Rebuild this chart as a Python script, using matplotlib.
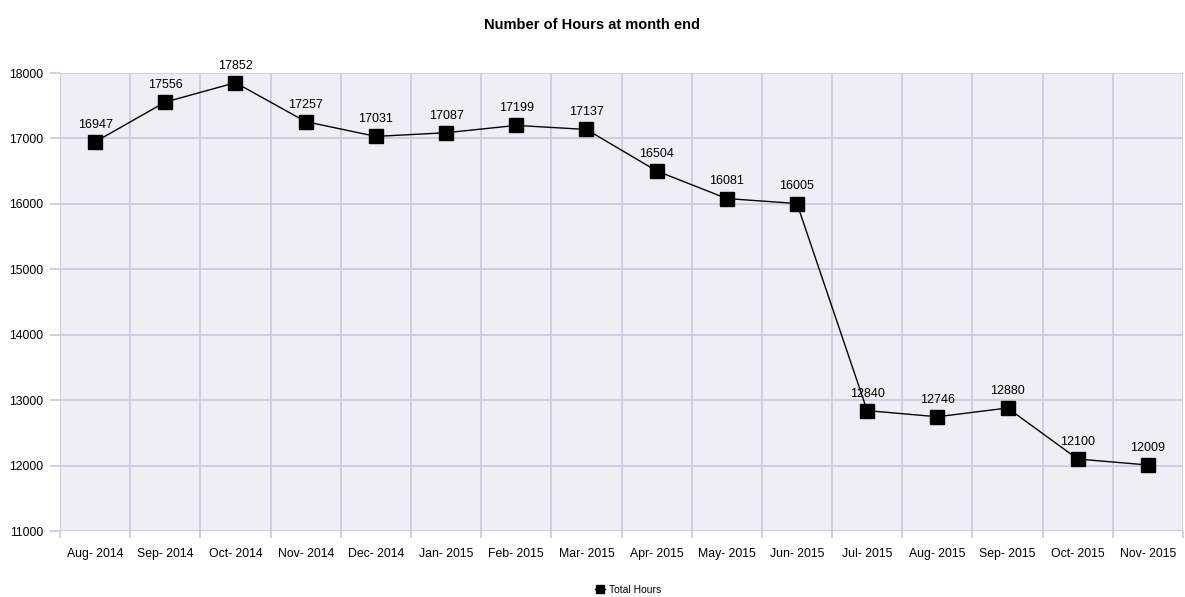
import matplotlib
matplotlib.use("Agg")
from matplotlib import pyplot as plt
import numpy as np

# Data
months = ["Aug- 2014", "Sep- 2014", "Oct- 2014", "Nov- 2014", "Dec- 2014", "Jan- 2015",
          "Feb- 2015", "Mar- 2015", "Apr- 2015", "May- 2015", "Jun- 2015", "Jul- 2015",
          "Aug- 2015", "Sep- 2015", "Oct- 2015", "Nov- 2015"]
hours = [16947, 17556, 17852, 17257, 17031, 17087, 17199, 17137, 16504, 16081,
         16005, 12840, 12746, 12880, 12100, 12009]
yticks = [11000, 12000, 13000, 14000, 15000, 16000, 17000, 18000]

plt.rcParams["font.family"] = ["Liberation Sans", "DejaVu Sans"]

gridc = "#c9c7dc"
bg = "#efeef4"

fig = plt.figure(figsize=(11.85, 5.97), dpi=100)
ax = fig.add_axes([60/1185, 1-531/597, (1183-60)/1185, (531-73)/597])
ax.set_facecolor(bg)

x = np.arange(len(months))
ax.plot(x, hours, color="black", lw=1, marker="s", ms=10, mfc="black", mec="black",
        label="Total Hours")
for xi, v in zip(x, hours):
    ax.annotate(str(v), (xi, v), xytext=(0, 8), textcoords="offset points",
                ha="center", va="bottom", fontsize=9)

ax.set_xlim(-0.5, len(months) - 0.5)
ax.set_ylim(11000, 18000)
ax.set_yticks(yticks)
ax.set_yticklabels([str(t) for t in yticks], fontsize=8.8)
ax.set_xticks(x)
ax.set_xticklabels(months, fontsize=8.8)
ax.set_xticks(np.arange(len(months) + 1) - 0.5, minor=True)
ax.tick_params(axis="x", which="major", length=0, pad=12)
ax.tick_params(axis="x", which="minor", length=5, color=gridc, width=1.2)
ax.tick_params(axis="y", length=7, color=gridc, width=1.2, pad=5)
ax.grid(True, axis="y", which="major", color=gridc, lw=1.2)
ax.grid(True, axis="x", which="minor", color=gridc, lw=1.2)
ax.set_axisbelow(True)
for s in ax.spines.values():
    s.set_visible(False)

fig.suptitle("Number of Hours at month end", y=1-25/597, va="center",
             fontsize=10.5, fontweight="bold")
fig.legend(loc="center", bbox_to_anchor=(628/1185, 1-590/597), frameon=False,
           fontsize=7.5, markerscale=0.6, handlelength=1.0, handletextpad=0.4)

fig.savefig("out.png", dpi=100, facecolor="white")
